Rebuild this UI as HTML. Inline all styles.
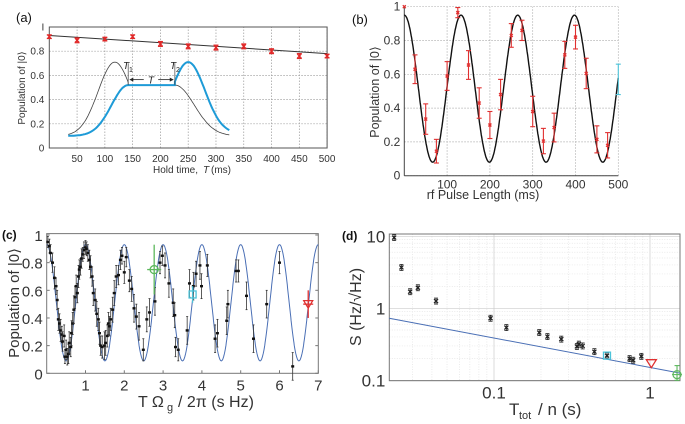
<!DOCTYPE html>
<html><head><meta charset="utf-8">
<style>
html,body{margin:0;padding:0;background:#fff;}
svg{display:block;font-family:"Liberation Sans",sans-serif;}
</style></head>
<body>
<svg id="fig" width="685" height="424" viewBox="0 0 685 424" xmlns="http://www.w3.org/2000/svg"></svg>
<script>
// ---------- Panel (a) data ----------
const aHold = [0,50,100,150,200,250,300,350,400,450,500];
const aPop = [0.92,0.89,0.90,0.92,0.86,0.84,0.83,0.84,0.80,0.76,0.76];
const aErr = [0.015,0.02,0.015,0.015,0.02,0.02,0.02,0.02,0.02,0.02,0.015];
const aFitX = [0,500];
const aFitY = [0.93,0.78];
const aXTicks = [50,100,150,200,250,300,350,400,450,500];
const aYTicks = [0,0.2,0.4,0.6,0.8,1];
const aYLabels = ["0","0.2","0.4","0.6","0.8","I"];
// ---------- Panel (b) data ----------
const bLen = [0,25,50,75,100,125,150,175,200,225,250,275,300,325,350,375,400,425,450,475];
const bPop = [1.0,0.63,0.335,0.145,0.59,0.965,0.655,0.43,0.30,0.48,0.83,0.86,0.38,0.205,0.285,0.715,0.82,0.605,0.215,0.18];
const bErr = [0,0.085,0.09,0.07,0.085,0.03,0.085,0.09,0.08,0.09,0.07,0.06,0.09,0.075,0.085,0.08,0.07,0.09,0.08,0.075];
const bCyanX = [500];
const bCyanY = [0.57];
const bCyanE = [0.09];
const bFitParams = [0.515,0.435,132.5]; // offset, amplitude, period (ms)
const bXTicks = [100,200,300,400,500];
const bYTicks = [0,0.2,0.4,0.6,0.8,1];
// ---------- Panel (c) data ----------
const cX = [0.03,0.07,0.10,0.15,0.20,0.24,0.27,0.30,0.33,0.36,0.39,0.41,0.45,0.47,0.50,0.53,0.56,0.58,0.62,0.64,0.67,0.70,0.73,0.76,0.79,0.82,0.84,0.87,0.90,0.93,0.96,1.00,1.03,1.06,1.10,1.13,1.17,1.20,1.25,1.29,1.33,1.36,1.39,1.43,1.49,1.52,1.56,1.59,1.62,1.65,1.70,1.74,1.79,1.85,1.90,1.94,2.00,2.05,2.13,2.19,2.25,2.31,2.38,2.49,2.58,2.65,2.79,2.92,2.98,3.05,3.15,3.26,3.30,3.32,3.39,3.62,3.68,3.78,3.85,3.95,3.99,4.14,4.34,4.40,4.64,4.67,4.88,4.94,5.15,5.33,5.67,6.00,6.34];
const cY = [0.95,0.92,0.87,0.80,0.69,0.63,0.53,0.39,0.36,0.31,0.28,0.23,0.27,0.12,0.17,0.12,0.14,0.22,0.19,0.29,0.36,0.46,0.55,0.63,0.58,0.70,0.75,0.77,0.83,0.86,0.89,0.91,0.90,0.87,0.82,0.77,0.70,0.58,0.53,0.43,0.39,0.29,0.20,0.19,0.20,0.22,0.27,0.36,0.34,0.39,0.46,0.58,0.70,0.71,0.82,0.85,0.73,0.84,0.67,0.61,0.47,0.41,0.34,0.17,0.39,0.44,0.52,0.80,0.85,0.78,0.65,0.51,0.42,0.19,0.17,0.31,0.65,0.63,0.72,0.78,0.63,0.78,0.25,0.29,0.38,0.50,0.74,0.74,0.56,0.25,0.50,0.80,0.05];
const cE = [0.04,0.05,0.06,0.07,0.08,0.06,0.07,0.08,0.07,0.08,0.06,0.07,0.08,0.05,0.07,0.06,0.07,0.08,0.07,0.09,0.08,0.1,0.08,0.08,0.07,0.08,0.07,0.06,0.07,0.05,0.06,0.05,0.05,0.06,0.07,0.08,0.07,0.09,0.08,0.09,0.08,0.08,0.07,0.08,0.1,0.09,0.08,0.08,0.07,0.08,0.09,0.09,0.08,0.07,0.07,0.06,0.08,0.07,0.08,0.09,0.1,0.09,0.1,0.08,0.09,0.1,0.1,0.08,0.07,0.09,0.1,0.1,0.09,0.07,0.08,0.1,0.1,0.1,0.09,0.1,0.09,0.08,0.1,0.1,0.1,0.1,0.08,0.08,0.1,0.1,0.1,0.08,0.1];
const cSpecialX = [2.77,3.76,6.74];
const cSpecialY = [0.75,0.57,0.50];
const cSpecialE = [0.18,0.06,0.1];
const cFitParams = [0.51,0.42,1.0]; // offset, amplitude, period
const cXTicks = [1,2,3,4,5,6,7];
const cYTicks = [0,0.2,0.4,0.6,0.8,1];
// ---------- Panel (d) data ----------
const dX = [0.0229,0.0255,0.029,0.0325,0.0425,0.095,0.12,0.195,0.22,0.27,0.34,0.35,0.37,0.44,0.53,0.74,0.78,0.88];
const dY = [9.6,3.69,1.7,1.93,1.26,0.727,0.54,0.46,0.405,0.373,0.295,0.318,0.30,0.25,0.22,0.20,0.19,0.215];
const dSpecialX = [0.53,1.02,1.49];
const dSpecialY = [0.22,0.17,0.12];
const dLineX = [0.0213,1.56];
const dLineY = [0.727,0.126];
const dXTicks = [0.1,1];
const dYTicks = [0.1,1,10];

const NS = "http://www.w3.org/2000/svg";
const svg = document.getElementById('fig');
function mk(tag, attrs, parent){
  const e = document.createElementNS(NS, tag);
  for (const k in attrs) e.setAttribute(k, attrs[k]);
  (parent||svg).appendChild(e);
  return e;
}
function txt(s, attrs, parent){ const t = mk('text', attrs, parent); t.textContent = s; return t; }
function errbar(g, x, y1, y2, cap, color, w){
  mk('line',{x1:x,x2:x,y1:y1,y2:y2,stroke:color,'stroke-width':w||1},g);
  mk('line',{x1:x-cap,x2:x+cap,y1:y1,y2:y1,stroke:color,'stroke-width':w||1},g);
  mk('line',{x1:x-cap,x2:x+cap,y1:y2,y2:y2,stroke:color,'stroke-width':w||1},g);
}
function xmark(g,x,y,s,color){
  mk('line',{x1:x-s,y1:y-s,x2:x+s,y2:y+s,stroke:color,'stroke-width':1.3},g);
  mk('line',{x1:x-s,y1:y+s,x2:x+s,y2:y-s,stroke:color,'stroke-width':1.3},g);
}

// ================= Panel A =================
const ax = x => 49.3 + x*0.5556;
const ay = y => 148 - y*121;
const gA = mk('g',{});


let t = txt('(a)',{x:16,y:22,'font-size':13,fill:'#111'},gA);


aYTicks.forEach((v,i)=>{
  if(i>0){ const l=mk('line',{x1:ax(0),x2:ax(500),y1:ay(v),y2:ay(v),stroke:'#999','stroke-dasharray':'1.5,1.5','stroke-width':0.7},gA);
    }
  const tl = txt(aYLabels[i],{x:ax(0)-5,y:ay(v)+3.5,'font-size':10,'text-anchor':'end',fill:'#333'},gA);
   
});
aXTicks.forEach(v=>{
  const l=mk('line',{x1:ax(v),x2:ax(v),y1:ay(0),y2:ay(1),stroke:'#999','stroke-dasharray':'1.5,1.5','stroke-width':0.7},gA);
   
  const tl = txt(String(v),{x:ax(v),y:ay(0)+14,'font-size':10,'text-anchor':'middle',fill:'#333'},gA);
   
});
let fr = mk('rect',{x:ax(0),y:ay(1),width:ax(500)-ax(0),height:ay(0)-ay(1),fill:'none',stroke:'#555','stroke-width':1},gA);
 
function pathFn(f,x0,x1){ let d=''; for(let x=x0;x<=x1+0.01;x+=2){ d+=(d?'L':'M')+ax(x).toFixed(1)+','+ay(f(x)).toFixed(1);} return d; }
const gGauss=(x,m,s)=>Math.exp(-(x-m)*(x-m)/(2*s*s));
let p = mk('path',{d:pathFn(x=>0.1+0.61*gGauss(x,118,30),34,142)+' L'+ax(142)+','+ay(0.52)+pathFn(x=>0.1+0.42*gGauss(x,226,35),226,325).replace('M',' M'),fill:'none',stroke:'#444','stroke-width':0.8},gA);
 
p = mk('path',{d:pathFn(x=>0.1+0.42*gGauss(x,142,30),34,142)+' L'+ax(226)+','+ay(0.52)+pathFn(x=>0.12+0.59*gGauss(x,250,30),226,325).replace('M',' L'),fill:'none',stroke:'#1e9bd7','stroke-width':2},gA);
 
[142,226].forEach(v=>{ mk('line',{x1:ax(v),x2:ax(v),y1:ay(0.52),y2:ay(0.7),stroke:'#444','stroke-width':0.7},gA); });
mk('line',{x1:ax(146),x2:ax(170),y1:ay(0.565),y2:ay(0.565),stroke:'#222','stroke-width':0.8},gA);
mk('line',{x1:ax(196),x2:ax(222),y1:ay(0.565),y2:ay(0.565),stroke:'#222','stroke-width':0.8},gA);
mk('path',{d:`M${ax(144)},${ay(0.565)} l4,-2 l0,4z M${ax(224)},${ay(0.565)} l-4,-2 l0,4z`,fill:'#222'},gA);
t=txt('T',{x:ax(183),y:ay(0.565)+4,'font-size':10,'font-style':'italic','text-anchor':'middle',fill:'#222'},gA);
 
t=txt('T',{x:123,y:69,'font-size':10,'font-style':'italic',fill:'#222'},gA);
 
txt('1',{x:129,y:72,'font-size':7,fill:'#222'},gA);
t=txt('T',{x:170,y:69,'font-size':10,'font-style':'italic',fill:'#222'},gA);
 
txt('2',{x:176,y:72,'font-size':7,fill:'#222'},gA);
let fl = mk('line',{x1:ax(aFitX[0]),x2:ax(aFitX[1]),y1:ay(aFitY[0]),y2:ay(aFitY[1]),stroke:'#333','stroke-width':1},gA);
 
aHold.forEach((v,i)=>{
  const g = mk('g',{},gA);
   
  errbar(g,ax(v),ay(aPop[i]+aErr[i]),ay(aPop[i]-aErr[i]),2.5,'#e02828',1.2);
  xmark(g,ax(v),ay(aPop[i]),2,'#e02828');
});
t=txt('Hold time, ',{x:153,y:173,'font-size':10,fill:'#333'},gA);
 
txt('T',{x:203,y:173,'font-size':10,'font-style':'italic',fill:'#333'},gA);
txt('(ms)',{x:211,y:173,'font-size':10,fill:'#333'},gA);
t=txt('Population of |0⟩',{x:0,y:0,'font-size':10,'text-anchor':'middle',fill:'#333',transform:'translate(25,88) rotate(-90)'},gA);
 

// ================= Panel B =================
const bx = x => 404.3 + x*0.428;
const by = y => 175.7 - y*169;
const gB = mk('g',{});


t=txt('(b)',{x:352,y:24,'font-size':13,fill:'#111'},gB);
 
bYTicks.forEach(v=>{
  const l=mk('line',{x1:bx(0),x2:bx(500),y1:by(v),y2:by(v),stroke:'#aaa','stroke-dasharray':'1.5,1.5','stroke-width':0.7},gB);
   
  const tl=txt(String(v),{x:bx(0)-4,y:by(v)+4,'font-size':12,'text-anchor':'end',fill:'#333'},gB);
   
});
bXTicks.forEach(v=>{
  const l=mk('line',{x1:bx(v),x2:bx(v),y1:by(0),y2:by(1),stroke:'#aaa','stroke-dasharray':'1.5,1.5','stroke-width':0.7},gB);
   
  const tl=txt(String(v),{x:bx(v),y:by(0)+13,'font-size':12,'text-anchor':'middle',fill:'#333'},gB);
   
});
mk('line',{x1:bx(0),x2:bx(0),y1:by(0),y2:by(1),stroke:'#444'},gB);
mk('line',{x1:bx(0),x2:bx(500),y1:by(0),y2:by(0),stroke:'#444'},gB);
{ let d=''; for(let x=0;x<=500;x+=1){ const y=bFitParams[0]+bFitParams[1]*Math.cos(2*Math.PI*x/bFitParams[2]); d+=(d?'L':'M')+bx(x).toFixed(1)+','+by(y).toFixed(1);} 
  const c=mk('path',{d:d,fill:'none',stroke:'#111','stroke-width':1.4},gB);
    }
bLen.forEach((v,i)=>{
  const g=mk('g',{},gB);
   
  if(bErr[i]>0) errbar(g,bx(v),by(bPop[i]+bErr[i]),by(bPop[i]-bErr[i]),2.5,'#e03030',1.1);
  xmark(g,bx(v),by(bPop[i]),1.5,'#e03030');
});
bCyanX.forEach((v,i)=>{
  const g=mk('g',{},gB);
   
  errbar(g,bx(v),by(bCyanY[i]+bCyanE[i]),by(bCyanY[i]-bCyanE[i]),2.5,'#4cc3d9',1.1);
});
t=txt('rf Pulse Length (ms)',{x:483,y:199,'font-size':12.5,'text-anchor':'middle',fill:'#333'},gB);
 
t=txt('Population of |0⟩',{x:0,y:0,'font-size':12.5,'text-anchor':'middle',fill:'#333',transform:'translate(379,92) rotate(-90)'},gB);
 

// ================= Panel C =================
const cx = x => 46.7 + x*38.8;
const cy = y => 373.3 - y*138.3;
const gC = mk('g',{});


t=txt('(c)',{x:2,y:239,'font-size':12,'font-weight':'bold',fill:'#111'},gC);
 
fr=mk('rect',{x:cx(0),y:cy(1.01),width:cx(7)-cx(0),height:cy(0)-cy(1.01),fill:'none',stroke:'#777','stroke-width':1},gC);
 
cYTicks.forEach(v=>{
  mk('line',{x1:cx(0),x2:cx(0)+3,y1:cy(v),y2:cy(v),stroke:'#777'},gC);
  mk('line',{x1:cx(7),x2:cx(7)-3,y1:cy(v),y2:cy(v),stroke:'#777'},gC);
  const tl=txt(String(v),{x:cx(0)-4,y:cy(v)+6,'font-size':15,'text-anchor':'end',fill:'#333'},gC);
   
});
cXTicks.forEach(v=>{
  mk('line',{x1:cx(v),x2:cx(v),y1:cy(0),y2:cy(0)-3,stroke:'#777'},gC);
  const tl=txt(String(v),{x:cx(v),y:cy(0)+17,'font-size':15,'text-anchor':'middle',fill:'#333'},gC);
   
});
{ let d=''; for(let x=0;x<=7;x+=0.01){ const y=cFitParams[0]+cFitParams[1]*Math.cos(2*Math.PI*x/cFitParams[2]); d+=(d?'L':'M')+cx(x).toFixed(1)+','+cy(y).toFixed(1);} 
  const c=mk('path',{d:d,fill:'none',stroke:'#4a6fb5','stroke-width':1},gC);
    }
cX.forEach((v,i)=>{
  const g=mk('g',{},gC);
   
  errbar(g,cx(v),cy(cY[i]+cE[i]),cy(cY[i]-cE[i]),1,'#333',0.8);
  mk('rect',{x:cx(v)-1.5,y:cy(cY[i])-1.2,width:3,height:2.4,fill:'#111'},g);
});
{
  const cols=['#5cb85c','#4cc3d9','#e03030'];
  cSpecialX.forEach((v,i)=>{
    const g=mk('g',{},gC);
     
    errbar(g,cx(v),cy(cSpecialY[i]+cSpecialE[i]),cy(cSpecialY[i]-cSpecialE[i]),0,cols[i],1.3);
    const X=cx(v),Y=cy(cSpecialY[i]);
    if(i===0){ mk('line',{x1:X-7,x2:X+7,y1:Y,y2:Y,stroke:cols[i],'stroke-width':1.3},g); mk('circle',{cx:X,cy:Y,r:4,fill:'none',stroke:cols[i],'stroke-width':1.3},g); }
    if(i===1){ mk('rect',{x:X-3.5,y:Y-3.5,width:7,height:7,fill:'none',stroke:cols[i],'stroke-width':1.3},g); }
    if(i===2){ mk('line',{x1:X-5,x2:X+5,y1:Y,y2:Y,stroke:cols[i],'stroke-width':1.3},g); mk('path',{d:`M${X-4.5},${Y-3.5} L${X+4.5},${Y-3.5} L${X},${Y+4}z`,fill:'none',stroke:cols[i],'stroke-width':1.3},g); }
  });
}
t=txt('T Ω',{x:138,y:407,'font-size':16,fill:'#333'},gC);
 
txt('g',{x:167,y:411,'font-size':11,fill:'#333'},gC);
txt('/ 2π (s Hz)',{x:178,y:407,'font-size':16,fill:'#333'},gC);
t=txt('Population of |0⟩',{x:0,y:0,'font-size':15,'text-anchor':'middle',fill:'#333',transform:'translate(19,303) rotate(-90)'},gC);
 

// ================= Panel D =================
const dx = v => 650 + Math.log10(v)*156;
const dy = v => 308.3 - Math.log10(v)*72;
const gD = mk('g',{});


t=txt('(d)',{x:342,y:240,'font-size':12,'font-weight':'bold',fill:'#111'},gD);
 
const dL=389.3, dR=680, dT=234, dB=380.7;
for(let e=-2;e<=0;e++) for(let m=1;m<10;m++){ const v=m*Math.pow(10,e); const X=dx(v); if(X<dL||X>dR) continue;
  const l=mk('line',{x1:X,x2:X,y1:dT,y2:dB,stroke:m===1?'#ccc':'#e3e3e3','stroke-width':0.7,'stroke-dasharray':m===1?'':'1,1.5'},gD);
    }
for(let e=-1;e<=1;e++) for(let m=1;m<10;m++){ const v=m*Math.pow(10,e); const Y=dy(v); if(Y<dT||Y>dB) continue;
  const l=mk('line',{x1:dL,x2:dR,y1:Y,y2:Y,stroke:m===1?'#ccc':'#e3e3e3','stroke-width':0.7,'stroke-dasharray':m===1?'':'1,1.5'},gD);
    }
fr=mk('rect',{x:dL,y:dT,width:dR-dL,height:dB-dT,fill:'none',stroke:'#777','stroke-width':1},gD);
 
dYTicks.forEach(v=>{
  const tl=txt(String(v),{x:dL-4,y:dy(v)+6,'font-size':17,'text-anchor':'end',fill:'#333'},gD);
   
});
dXTicks.forEach(v=>{
  const tl=txt(String(v),{x:dx(v),y:dB+18,'font-size':17,'text-anchor':'middle',fill:'#333'},gD);
   
});
fl=mk('line',{x1:dx(dLineX[0]),x2:dx(dLineX[1]),y1:dy(dLineY[0]),y2:dy(dLineY[1]),stroke:'#4a6fb5','stroke-width':1},gD);
 
dX.forEach((v,i)=>{
  const g=mk('g',{},gD);
   
  const X=dx(v),Y=dy(dY[i]);
  errbar(g,X,Y-3,Y+3,2,'#222',0.8);
  xmark(g,X,Y,2,'#222');
});
{ const cols=['#4cc3d9','#e03030','#5cb85c'];
  dSpecialX.forEach((v,i)=>{
    const g=mk('g',{},gD);
     
    const X=dx(v),Y=dy(dSpecialY[i]);
    if(i===0) mk('rect',{x:X-3.5,y:Y-3.5,width:7,height:7,fill:'none',stroke:cols[i],'stroke-width':1.3},g);
    if(i===1) mk('path',{d:`M${X-5},${Y-4} L${X+5},${Y-4} L${X},${Y+4}z`,fill:'none',stroke:cols[i],'stroke-width':1.3},g);
    if(i===2){ errbar(g,X,dy(0.16),dy(0.1),2.5,cols[i],1.1); mk('circle',{cx:X,cy:Y,r:4,fill:'none',stroke:cols[i],'stroke-width':1.2},g); mk('line',{x1:X-5,x2:X+5,y1:Y,y2:Y,stroke:cols[i],'stroke-width':1.1},g); }
  });
}
t=txt('T',{x:509,y:415,'font-size':17,fill:'#333'},gD);
 
txt('tot',{x:519,y:419,'font-size':11,fill:'#333'},gD);
txt('/ n (s)',{x:538,y:415,'font-size':17,fill:'#333'},gD);
t=txt('S (Hz/√Hz)',{x:0,y:0,'font-size':16,'text-anchor':'middle',fill:'#333',transform:'translate(361,307) rotate(-90)'},gD);
 
</script>
</body></html>
